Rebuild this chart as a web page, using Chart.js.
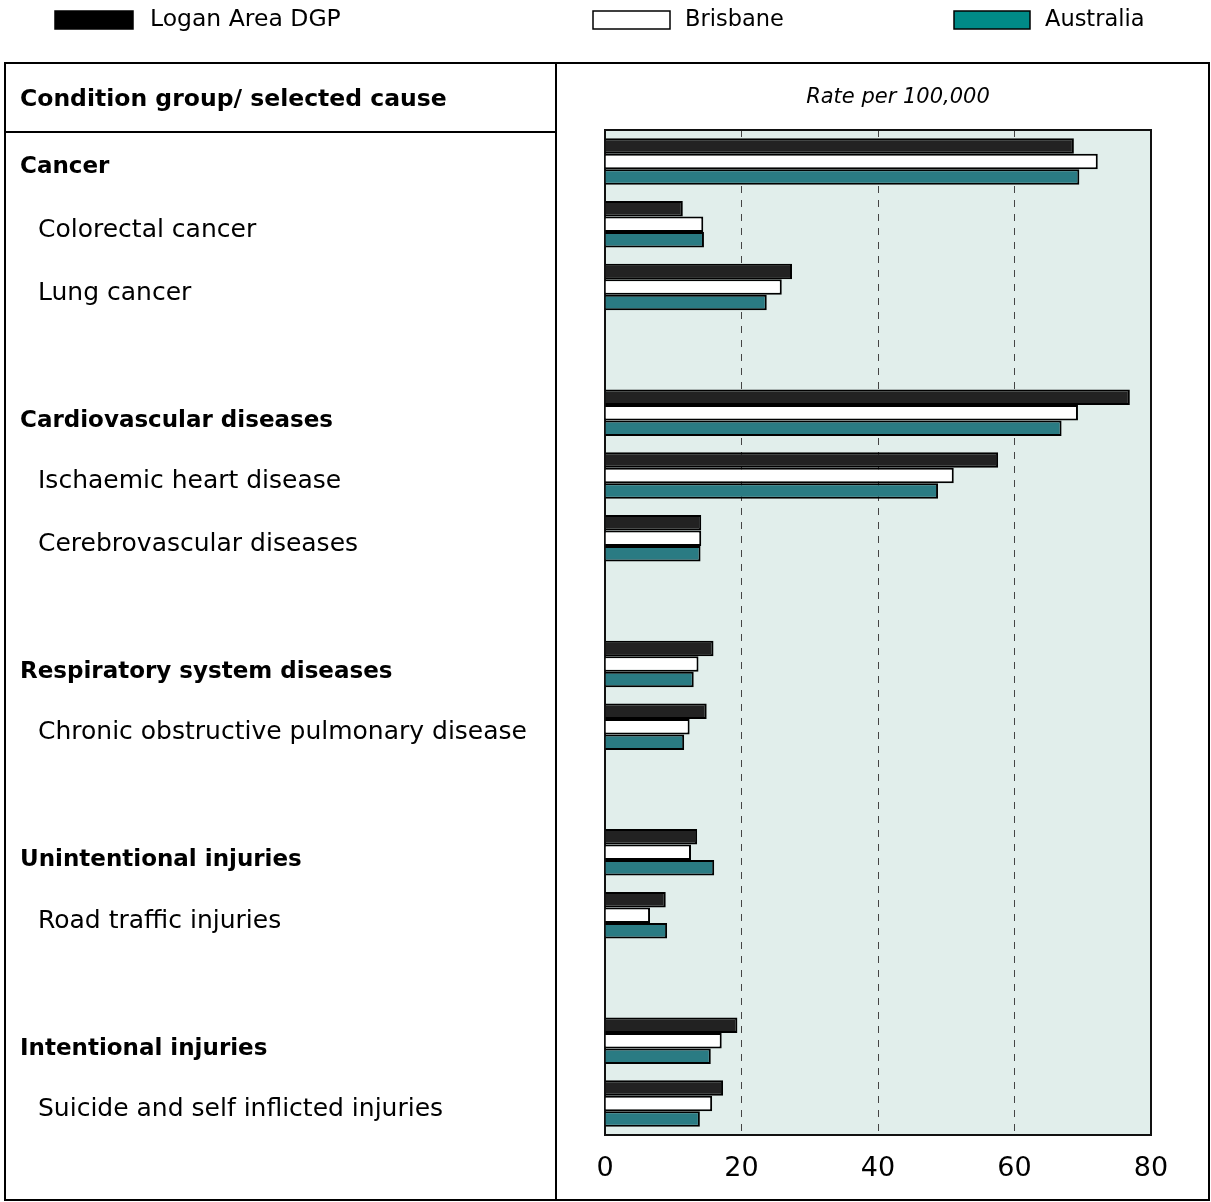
<!DOCTYPE html>
<html>
<head>
<meta charset="utf-8">
<script src="https://cdn.jsdelivr.net/npm/chart.js@4.4.1/dist/chart.umd.min.js"></script>
<style>
  html, body { margin: 0; padding: 0; background: #fff; }
  canvas { display: block; }
</style>
</head>
<body>
<canvas id="rateChart" width="1211" height="1202"></canvas>
<script>
// categories (blank strings are the gaps between condition groups)
var categories = [
    'Cancer', 'Colorectal cancer', 'Lung cancer', '',
    'Cardiovascular diseases', 'Ischaemic heart disease', 'Cerebrovascular diseases', '',
    'Respiratory system diseases', 'Chronic obstructive pulmonary disease', '',
    'Unintentional injuries', 'Road traffic injuries', '',
    'Intentional injuries', 'Suicide and self inflicted injuries'
];
var groupRows = ['Cancer', 'Cardiovascular diseases', 'Respiratory system diseases',
    'Unintentional injuries', 'Intentional injuries'];

var loganValues = [68.7, 11.4, 27.4, null, 76.9, 57.6, 14.1, null, 15.9, 14.9, null, 13.5, 8.9, null, 19.4, 17.3];
var brisbaneValues = [72.2, 14.4, 25.9, null, 69.3, 51.1, 14.1, null, 13.7, 12.4, null, 12.6, 6.6, null, 17.1, 15.7];
var australiaValues = [69.5, 14.5, 23.7, null, 66.9, 48.8, 14.0, null, 13.0, 11.6, null, 16.0, 9.1, null, 15.5, 13.9];

var seriesNames = ['Logan Area DGP', 'Brisbane', 'Australia'];
var xTicks = [0, 20, 40, 60, 80];

var FONT = "'DejaVu Sans', 'Noto Sans', sans-serif";

// frame, header, legend and row labels around the plot
var framePlugin = {
    id: 'frame',
    beforeDraw: function (chart) {
        var ctx = chart.ctx;
        var a = chart.chartArea;
        ctx.save();
        ctx.fillStyle = '#e1eeeb';
        ctx.fillRect(a.left, a.top, a.right - a.left, a.bottom - a.top);
        ctx.restore();
    },
    afterDraw: function (chart) {
        var ctx = chart.ctx;
        var a = chart.chartArea;
        var yScale = chart.scales.y;
        ctx.save();

        // plot box top / right
        ctx.strokeStyle = '#111';
        ctx.lineWidth = 2;
        ctx.beginPath();
        ctx.moveTo(a.left, a.top);
        ctx.lineTo(a.right, a.top);
        ctx.lineTo(a.right, a.bottom);
        ctx.stroke();

        // outer frame and table lines
        ctx.strokeStyle = '#000';
        ctx.lineWidth = 2;
        ctx.strokeRect(5, 63, 1204, 1137);
        ctx.beginPath();
        ctx.moveTo(556, 63);
        ctx.lineTo(556, 1200);
        ctx.moveTo(5, 132);
        ctx.lineTo(556, 132);
        ctx.stroke();

        // headers
        ctx.fillStyle = '#000';
        ctx.textBaseline = 'middle';
        ctx.textAlign = 'left';
        ctx.font = 'bold 23.5px ' + FONT;
        ctx.fillText('Condition group/ selected cause', 20, 100);
        ctx.textAlign = 'center';
        ctx.font = 'italic 21px ' + FONT;
        ctx.fillText('Rate per 100,000', 898, 98);

        // row labels
        ctx.textAlign = 'left';
        categories.forEach(function (label, i) {
            if (!label) return;
            var y = yScale.getPixelForValue(i) + 6;
            if (groupRows.indexOf(label) >= 0) {
                ctx.font = 'bold 23px ' + FONT;
                ctx.fillText(label, 20, y + (i > 0 ? 2 : 0));
            } else {
                ctx.font = '25px ' + FONT;
                ctx.fillText(label, 38, y);
            }
        });

        // legend
        var legendBoxes = [[55, 133, 150], [593, 670, 685], [954, 1030, 1045]];
        var legendColors = ['#000000', '#ffffff', '#008a87'];
        chart.data.datasets.forEach(function (ds, i) {
            var b = legendBoxes[i];
            ctx.fillStyle = legendColors[i];
            ctx.fillRect(b[0], 11, b[1] - b[0], 18);
            ctx.strokeStyle = '#000';
            ctx.lineWidth = 1.5;
            ctx.strokeRect(b[0], 11, b[1] - b[0], 18);
            ctx.fillStyle = '#000';
            ctx.font = (i === 0 ? '23.5px ' : '22.5px ') + FONT;
            ctx.fillText(ds.label, b[2], 20);
        });

        ctx.restore();
    }
};

var rateCtx = document.getElementById('rateChart').getContext('2d');

var rateChart = new Chart(rateCtx, {
    type: 'bar',
    data: {
        labels: categories,
        datasets: [{
            label: seriesNames[0],
            data: loganValues,
            backgroundColor: '#222222',
            borderColor: '#000000',
            borderWidth: 2
        }, {
            label: seriesNames[1],
            data: brisbaneValues,
            backgroundColor: '#ffffff',
            borderColor: '#000000',
            borderWidth: 2
        }, {
            label: seriesNames[2],
            data: australiaValues,
            backgroundColor: '#2a7b83',
            borderColor: '#000000',
            borderWidth: 2
        }]
    },
    options: {
        indexAxis: 'y',
        responsive: false,
        animation: false,
        categoryPercentage: 0.74,
        barPercentage: 1.0,
        layout: {
            padding: { left: 605, right: 60, top: 130, bottom: 0 }
        },
        plugins: {
            legend: { display: false },
            tooltip: { enabled: false }
        },
        scales: {
            x: {
                min: 0,
                max: 80,
                afterBuildTicks: function (scale) {
                    scale.ticks = xTicks.map(function (v) { return { value: v }; });
                },
                afterFit: function (scale) { scale.height = 67; },
                grid: {
                    drawTicks: false,
                    lineWidth: 1,
                    color: function (c) {
                        var v = c.tick ? c.tick.value : 0;
                        return (v === 0 || v === 80) ? 'rgba(0,0,0,0)' : '#444';
                    }
                },
                border: { display: true, color: '#111', width: 2, dash: [7, 7] },
                ticks: {
                    padding: 18,
                    color: '#000',
                    font: { family: FONT, size: 27 }
                }
            },
            y: {
                grid: { display: false, drawTicks: false },
                border: { display: true, color: '#111', width: 2 },
                ticks: { display: false },
                afterFit: function (scale) { scale.width = 0; }
            }
        }
    },
    plugins: [framePlugin]
});
</script>
</body>
</html>
